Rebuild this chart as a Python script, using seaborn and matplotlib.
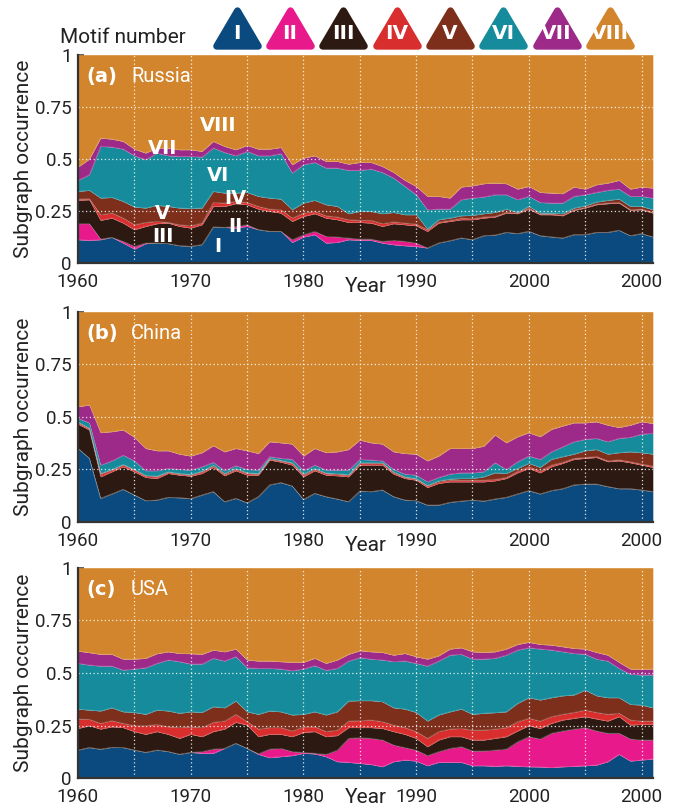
import numpy as np
import matplotlib
matplotlib.use("Agg")
import matplotlib.pyplot as plt
from matplotlib.markers import MarkerStyle
from matplotlib.path import Path
from matplotlib.ticker import MultipleLocator
import seaborn as sns

# ---------------- data ----------------
years = list(range(1960, 2012))
motifs = ["I", "II", "III", "IV", "V", "VI", "VII", "VIII"]
colors = ["#0b4a7e", "#e7198b", "#2c1a12", "#d92e2e", "#7d2f1c",
          "#168b9b", "#9d2989", "#d2852c"]
xtick_years = [1960, 1970, 1980, 1990, 2000, 2010]
xtick_labels = ["1960", "1970", "1980", "1990", "2000", "2000"]
ytick_vals = [0, 0.25, 0.5, 0.75, 1]
ytick_labels = ["0", "0.25", "0.5", "0.75", "1"]

# upper edge (cumulative occurrence) of the band of each motif I..VII; VIII fills to 1
russia_I = [.112, .109, .112, .123, .096, .067, .093, .096, .093, .083, .080, .088, .173, .171, .168, .176, .160, .152, .152, .099, .125, .136, .096, .099, .112, .109,
            .109, .096, .088, .083, .080, .072, .096, .107, .120, .112, .131, .134, .147, .141, .152, .131, .125, .120, .136, .136, .147, .147, .157, .131, .141, .125]
russia_II = [.189, .189, .115, .123, .104, .080, .096, .096, .093, .083, .080, .088, .173, .171, .176, .184, .160, .152, .152, .112, .136, .152, .128, .125, .120, .115,
             .115, .104, .109, .104, .096, .072, .096, .107, .120, .112, .131, .134, .147, .141, .152, .131, .125, .120, .136, .136, .147, .147, .157, .131, .141, .125]
russia_III = [.301, .304, .205, .216, .192, .160, .176, .189, .192, .176, .168, .184, .272, .272, .285, .280, .259, .248, .240, .200, .224, .237, .216, .208, .195, .195,
              .192, .176, .189, .184, .179, .152, .192, .200, .208, .208, .216, .221, .240, .237, .259, .232, .232, .227, .253, .264, .280, .285, .288, .253, .256, .240]
russia_IV = [.307, .309, .232, .240, .216, .184, .195, .200, .195, .184, .179, .192, .291, .288, .296, .291, .272, .259, .256, .216, .240, .248, .227, .221, .208, .205,
             .205, .189, .198, .192, .187, .160, .197, .205, .216, .213, .221, .224, .243, .240, .264, .235, .235, .230, .256, .267, .283, .288, .291, .256, .259, .243]
russia_V = [.344, .349, .312, .315, .296, .269, .264, .277, .272, .264, .262, .264, .344, .336, .336, .339, .320, .312, .307, .256, .288, .301, .280, .272, .237, .248,
            .248, .237, .243, .232, .232, .163, .208, .216, .227, .229, .237, .243, .259, .243, .272, .240, .240, .237, .264, .275, .293, .301, .307, .272, .272, .256]
russia_VI = [.397, .424, .560, .557, .547, .515, .496, .528, .515, .512, .512, .509, .552, .531, .515, .536, .515, .515, .525, .432, .472, .483, .456, .456, .445, .445,
             .451, .435, .408, .368, .328, .256, .259, .259, .304, .312, .317, .328, .328, .304, .320, .291, .288, .288, .320, .328, .339, .349, .355, .320, .320, .312]
russia_VII = [.461, .499, .600, .595, .584, .547, .528, .552, .552, .544, .544, .536, .584, .560, .544, .565, .547, .547, .555, .472, .504, .515, .488, .488, .475, .483,
              .483, .464, .435, .397, .368, .320, .320, .312, .365, .371, .381, .384, .381, .355, .368, .339, .336, .333, .365, .355, .376, .384, .397, .355, .365, .360]

china_I = [.349, .302, .111, .132, .154, .127, .100, .103, .116, .114, .110, .127, .143, .095, .111, .090, .119, .175, .186, .170, .106, .135, .119, .108, .095, .146,
           .143, .151, .119, .103, .100, .079, .079, .092, .098, .103, .098, .108, .116, .132, .148, .132, .148, .157, .175, .179, .179, .167, .157, .157, .151, .143]
china_II = [.349, .302, .111, .132, .154, .127, .100, .103, .116, .114, .110, .127, .143, .095, .111, .090, .119, .175, .186, .170, .106, .135, .119, .108, .095, .146,
            .143, .151, .119, .103, .100, .079, .079, .092, .098, .103, .098, .108, .116, .132, .148, .132, .148, .157, .175, .179, .179, .167, .157, .157, .151, .143]
china_III = [.465, .437, .214, .238, .262, .238, .211, .206, .230, .222, .217, .230, .259, .219, .243, .222, .222, .294, .284, .270, .214, .243, .222, .219, .214, .270,
             .270, .270, .227, .206, .198, .163, .183, .190, .190, .190, .190, .195, .206, .233, .254, .233, .262, .278, .297, .302, .306, .286, .290, .281, .270, .259]
china_IV = [.471, .443, .227, .246, .270, .246, .217, .214, .235, .227, .222, .238, .265, .225, .249, .230, .227, .298, .289, .278, .222, .249, .229, .225, .221, .278,
            .278, .278, .233, .211, .203, .170, .190, .198, .198, .198, .198, .202, .211, .241, .262, .241, .270, .283, .302, .306, .311, .290, .295, .286, .275, .265]
china_V = [.475, .446, .230, .249, .273, .249, .221, .217, .238, .230, .225, .241, .270, .230, .254, .233, .230, .302, .292, .281, .227, .254, .232, .229, .224, .281,
           .281, .281, .237, .214, .206, .173, .195, .203, .206, .206, .214, .233, .230, .254, .278, .259, .297, .310, .322, .338, .344, .322, .329, .333, .329, .322]
china_VI = [.492, .471, .270, .290, .317, .290, .243, .243, .254, .249, .246, .262, .283, .243, .267, .249, .246, .310, .302, .297, .243, .270, .246, .246, .246, .297,
            .294, .290, .249, .227, .222, .190, .211, .227, .233, .233, .238, .281, .249, .286, .313, .297, .333, .357, .381, .392, .397, .381, .397, .402, .417, .421]
china_VII = [.548, .556, .424, .429, .437, .402, .349, .338, .338, .322, .313, .329, .362, .333, .349, .338, .325, .381, .376, .370, .313, .349, .329, .333, .344, .389,
             .376, .370, .333, .325, .322, .290, .313, .349, .349, .349, .360, .413, .376, .405, .424, .405, .440, .456, .471, .471, .476, .460, .449, .460, .476, .468]

usa_I = [.134, .146, .138, .147, .146, .134, .123, .134, .127, .114, .123, .119, .119, .142, .166, .142, .114, .098, .103, .108, .119, .116, .103, .079, .076, .071,
         .066, .055, .079, .087, .082, .060, .076, .076, .076, .060, .060, .057, .060, .057, .055, .054, .051, .055, .057, .060, .063, .079, .114, .082, .087, .092]
usa_II = [.134, .146, .138, .147, .146, .134, .123, .134, .127, .114, .123, .127, .139, .142, .166, .142, .117, .139, .142, .127, .123, .119, .114, .134, .190, .193,
          .190, .182, .158, .146, .134, .108, .127, .142, .150, .130, .130, .134, .139, .174, .198, .187, .214, .225, .234, .241, .225, .214, .214, .187, .182, .182]
usa_III = [.237, .250, .234, .245, .241, .222, .209, .222, .209, .190, .209, .198, .222, .234, .266, .253, .198, .209, .209, .198, .218, .222, .198, .203, .241, .241,
           .241, .237, .222, .209, .190, .150, .182, .198, .198, .182, .182, .190, .198, .225, .250, .237, .261, .277, .285, .293, .282, .272, .293, .253, .256, .256]
usa_IV = [.282, .280, .261, .274, .261, .250, .250, .256, .245, .241, .245, .241, .266, .272, .304, .269, .234, .241, .241, .225, .245, .245, .222, .229, .272, .274,
          .277, .269, .253, .241, .222, .190, .222, .234, .237, .229, .229, .234, .241, .269, .285, .272, .293, .304, .313, .324, .313, .304, .309, .277, .272, .272]
usa_V = [.329, .324, .320, .335, .316, .313, .304, .324, .320, .309, .316, .313, .340, .335, .367, .316, .304, .320, .316, .301, .304, .316, .301, .316, .367, .369,
         .369, .364, .335, .329, .313, .272, .301, .316, .329, .304, .309, .312, .316, .356, .383, .372, .383, .392, .396, .419, .392, .383, .383, .351, .348, .335]
usa_VI = [.546, .538, .533, .533, .514, .519, .525, .546, .562, .554, .543, .543, .570, .557, .578, .525, .522, .522, .519, .511, .519, .535, .513, .522, .557, .573,
          .566, .562, .554, .557, .546, .533, .557, .585, .589, .566, .566, .570, .585, .609, .620, .614, .609, .601, .593, .589, .566, .557, .522, .494, .491, .491]
usa_VII = [.604, .597, .589, .589, .566, .566, .570, .592, .601, .593, .592, .589, .609, .601, .614, .562, .557, .557, .554, .551, .551, .570, .546, .562, .589, .606,
           .601, .598, .585, .593, .578, .566, .582, .614, .620, .601, .598, .601, .614, .636, .646, .636, .633, .625, .617, .614, .598, .585, .551, .519, .517, .519]

panels = [
    ("(a)", "Russia", [russia_I, russia_II, russia_III, russia_IV, russia_V, russia_VI, russia_VII]),
    ("(b)", "China", [china_I, china_II, china_III, china_IV, china_V, china_VI, china_VII]),
    ("(c)", "USA", [usa_I, usa_II, usa_III, usa_IV, usa_V, usa_VI, usa_VII]),
]

# in-chart motif labels for Russia panel: (label, year, occurrence)
russia_labels = [("VIII", 1972.4, 0.662), ("VII", 1967.5, 0.552), ("VI", 1972.4, 0.422),
                 ("IV", 1974.0, 0.312), ("V", 1967.5, 0.238), ("II", 1974.0, 0.174),
                 ("III", 1967.5, 0.126), ("I", 1972.4, 0.078)]

# ---------------- style ----------------
sns.set_theme(style="white")
plt.rcParams["font.family"] = ["Roboto", "DejaVu Sans"]
TXT = "#222222"

fig = plt.figure(figsize=(6.8, 8.08), dpi=100)
W, H = 680.0, 808.0
left, right = 78.0, 652.8
boxes = [(54.7, 263.0), (311.7, 521.7), (567.7, 778.3)]
xlabel_offsets = [-0.068, -0.068, -0.046]

for idx, ((tag, name, tops_list), (top_px, bot_px)) in enumerate(zip(panels, boxes)):
    ax = fig.add_axes([left / W, (H - bot_px) / H, (right - left) / W, (bot_px - top_px) / H])
    tops = np.maximum.accumulate(np.array(tops_list, dtype=float), axis=0)
    tops = np.vstack([tops, np.ones(len(years))])
    shares = np.diff(np.vstack([np.zeros(len(years)), tops]), axis=0)
    ax.stackplot(years, shares, colors=colors, linewidth=0, zorder=1)
    for row in tops[:-1]:
        ax.plot(years, row, color="white", lw=0.5, alpha=0.22, zorder=1.5)

    ax.set_xlim(1960, 2011)
    ax.set_ylim(0, 1)
    # dotted white grid
    for yv in ytick_vals[1:-1]:
        ax.axhline(yv, color="white", lw=0.9, ls=(0, (1, 2)), alpha=0.85, zorder=2)
    for xv in range(1965, 2011, 5):
        ax.axvline(xv, color="white", lw=0.9, ls=(0, (1, 2)), alpha=0.85, zorder=2)

    ax.set_xticks(xtick_years)
    ax.set_xticklabels(xtick_labels)
    ax.xaxis.set_minor_locator(MultipleLocator(5))
    ax.set_yticks(ytick_vals)
    ax.set_yticklabels(ytick_labels)
    ax.tick_params(axis="x", which="both", direction="in", length=4.5, width=1.1,
                   color="#333333", labelsize=13.5, labelcolor=TXT, pad=7.2, bottom=True)
    ax.tick_params(axis="y", which="both", direction="in", length=4.5, width=1.1,
                   color="#333333", labelsize=13.5, labelcolor=TXT, pad=4.5, left=True)
    sns.despine(ax=ax)
    for s in ["left", "bottom"]:
        ax.spines[s].set_color("#333333")
        ax.spines[s].set_linewidth(1.6)
        ax.spines[s].set_zorder(3)

    ax.set_ylabel("Subgraph occurrence", fontsize=15, color=TXT)
    ax.yaxis.set_label_coords(-0.078, 0.5)
    ax.set_xlabel("Year", fontsize=15, color=TXT)
    ax.xaxis.set_label_coords(0.5, xlabel_offsets[idx])

    ax.text(0.014, 0.87, tag, transform=ax.transAxes, color="white", fontsize=14,
            fontweight="bold", family="DejaVu Sans", va="baseline", ha="left", zorder=4)
    ax.text(0.092, 0.87, name, transform=ax.transAxes, color="white", fontsize=14.5,
            va="baseline", ha="left", zorder=4)

    if idx == 0:
        for lab, yr, val in russia_labels:
            ax.text(yr, val, lab, color="white", fontsize=14, fontweight="bold",
                    family="DejaVu Sans", ha="center", va="center", zorder=4)

# ---------------- legend ----------------
fig.text(60 / W, (H - 42.7) / H, "Motif number", fontsize=15, color=TXT,
         ha="left", va="baseline")
leg = fig.add_axes([210 / W, (H - 56) / H, 426.7 / W, 56 / H])
leg.set_xlim(-0.5, 7.5)
leg.set_ylim(0, 1)
leg.axis("off")
tri_path = Path([(-1, -0.85), (1, -0.85), (0, 0.85), (-1, -0.85)],
                [Path.MOVETO, Path.LINETO, Path.LINETO, Path.CLOSEPOLY])
tri = MarkerStyle(tri_path, joinstyle="round")
for i, (m, c) in enumerate(zip(motifs, colors)):
    leg.plot([i], [0.5], marker=tri, ms=30, mew=5, color=c, mfc=c, mec=c, ls="none",
             clip_on=False)
    leg.text(i, 0.40, m, color="white", fontsize=14.5, fontweight="bold",
             family="DejaVu Sans", ha="center", va="center")

fig.savefig("out.png", dpi=100, facecolor="white")
